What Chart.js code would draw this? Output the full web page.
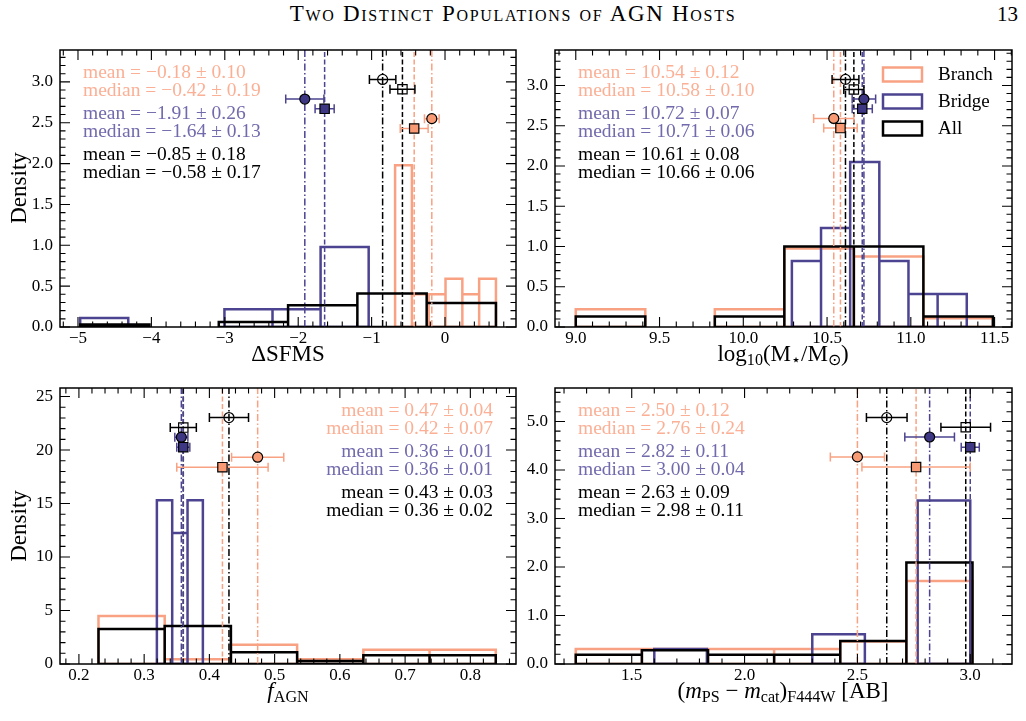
<!DOCTYPE html>
<html>
<head>
<meta charset="utf-8">
<script src="https://cdn.jsdelivr.net/npm/chart.js@4/dist/chart.umd.min.js"></script>
<style>
  body { margin: 0; background: #fff; }
  #page { position: relative; width: 1026px; height: 721px; overflow: hidden; font-family: 'Liberation Serif', 'Times New Roman', serif; color: #000; }
  canvas { position: absolute; }
  .lab { position: absolute; white-space: nowrap; transform: translate(-50%, -50%); font-size: 23px; line-height: 1; }
  .lab sub { font-size: 0.7em; vertical-align: -0.28em; line-height: 0; }
  .lab i { font-style: italic; }
  .rot { transform: translate(-50%, -50%) rotate(-90deg); }
  #title { position: absolute; left: 0; width: 1026px; top: 1px; line-height: 26px; text-align: center; font-variant: small-caps; font-size: 23px; letter-spacing: 1.7px; }
  #pageno { position: absolute; right: 8px; top: 1px; line-height: 26px; font-size: 21px; }
</style>
</head>
<body>
<div id="page">
  <div id="title">Two Distinct Populations of AGN Hosts</div>
  <div id="pageno">13</div>
  <canvas id="cSfms"></canvas>
  <canvas id="cMass"></canvas>
  <canvas id="cFagn"></canvas>
  <canvas id="cDmag"></canvas>
  <div class="lab rot" style="left:18px;top:188px">Density</div>
  <div class="lab rot" style="left:18px;top:526px">Density</div>
  <div class="lab" style="left:288px;top:353px">ΔSFMS</div>
  <div class="lab" style="left:783px;top:353px">log<sub>10</sub>(M<sub>⋆</sub>/M<sub>⊙</sub>)</div>
  <div class="lab" style="left:288px;top:690px"><i>f</i><sub>AGN</sub></div>
  <div class="lab" style="left:783px;top:690px">(<i>m</i><sub>PS</sub> − <i>m</i><sub>cat</sub>)<sub>F444W</sub> [AB]</div>
</div>
<script>
// group order everywhere: Branch, Bridge, All
const groupNames = ['Branch', 'Bridge', 'All'];

// --- ΔSFMS ---
const sfmsBranchEdges = [-0.68, -0.451, -0.222, 0.007, 0.236, 0.465, 0.694];
const sfmsBranchDens = [1.98, 0.40, 0.40, 0.59, 0.40, 0.59];
const sfmsBridgeEdges = [-4.97, -4.315, -3.66, -3.005, -2.35, -1.695, -1.04];
const sfmsBridgeDens = [0.109, 0, 0, 0.218, 0.218, 0.98];
const sfmsAllEdges = [-4.97, -4.026, -3.082, -2.138, -1.194, -0.25, 0.694];
const sfmsAllDens = [0.03, 0, 0.06, 0.265, 0.41, 0.294];
const sfmsMean = [-0.18, -1.91, -0.85];
const sfmsMeanErr = [0.10, 0.26, 0.18];
const sfmsMedian = [-0.42, -1.64, -0.58];
const sfmsMedianErr = [0.19, 0.13, 0.17];
const sfmsMarkerY = [2.55, 2.43, 2.79, 2.67, 3.03, 2.91];
const sfmsXRange = [-5.245, 0.967];
const sfmsYMax = 3.39;

// --- log10 stellar mass ---
const massBranchEdges = [9.0, 9.415, 9.83, 10.245, 10.66, 11.075, 11.49];
const massBranchDens = [0.219, 0, 0.219, 0.975, 0.876, 0.11];
const massBridgeEdges = [10.29, 10.464, 10.638, 10.812, 10.986, 11.16, 11.334];
const massBridgeDens = [0.82, 1.23, 2.05, 0.82, 0.41, 0.41];
const massAllEdges = [9.0, 9.415, 9.83, 10.245, 10.66, 11.075, 11.49];
const massAllDens = [0.13, 0, 0.13, 1.0, 1.0, 0.13];
const massMean = [10.54, 10.72, 10.61];
const massMeanErr = [0.12, 0.07, 0.08];
const massMedian = [10.58, 10.71, 10.66];
const massMedianErr = [0.10, 0.06, 0.06];
const massMarkerY = [2.59, 2.47, 2.83, 2.71, 3.075, 2.95];
const massXRange = [8.876, 11.604];
const massYMax = 3.44;

// --- f_AGN ---
const fagnBranchEdges = [0.23, 0.3315, 0.433, 0.5345, 0.636, 0.7375, 0.839];
const fagnBranchDens = [4.48, 0.45, 1.79, 0.45, 1.34, 1.34];
const fagnBridgeEdges = [0.3195, 0.343, 0.3665, 0.39];
const fagnBridgeDens = [15.3, 12.25, 15.3];
const fagnAllEdges = [0.23, 0.3315, 0.433, 0.5345, 0.636, 0.7375, 0.839];
const fagnAllDens = [3.28, 3.56, 1.09, 0.27, 0.82, 0.82];
const fagnMean = [0.474, 0.357, 0.43];
const fagnMeanErr = [0.04, 0.01, 0.03];
const fagnMedian = [0.42, 0.36, 0.36];
const fagnMedianErr = [0.07, 0.01, 0.02];
const fagnMarkerY = [19.33, 18.4, 21.2, 20.27, 23.04, 22.1];
const fagnXRange = [0.171, 0.870];
const fagnYMax = 25.8;

// --- (m_PS - m_cat) F444W ---
const dmagBranchEdges = [1.252, 1.545, 1.838, 2.131, 2.424, 2.717, 3.01];
const dmagBranchDens = [0.31, 0.31, 0.31, 0.31, 0.465, 1.71];
const dmagBridgeEdges = [1.60, 1.833, 2.067, 2.30, 2.533, 2.767, 3.0];
const dmagBridgeDens = [0.307, 0, 0, 0.613, 0, 3.37];
const dmagAllEdges = [1.252, 1.545, 1.838, 2.131, 2.424, 2.717, 3.01];
const dmagAllDens = [0.19, 0.284, 0.19, 0.19, 0.474, 2.09];
const dmagMean = [2.50, 2.82, 2.63];
const dmagMeanErr = [0.12, 0.11, 0.09];
const dmagMedian = [2.76, 3.00, 2.98];
const dmagMedianErr = [0.24, 0.04, 0.11];
const dmagMarkerY = [4.27, 4.06, 4.68, 4.47, 5.08, 4.88];
const dmagXRange = [1.16, 3.185];
const dmagYMax = 5.69;

// colours: Branch, Bridge, All
const lineColors = ['#F9A283', '#4C4490', '#000000'];
const fillColors = ['#F89B74', '#3E3783', 'rgba(0,0,0,0)'];
const textColors = ['#FBB096', '#716AAC', '#000000'];

const SERIF = "'Liberation Serif', 'Times New Roman', serif";
const DASHDOT = [7, 2.5, 1.5, 2.5];
const DASHED = [5, 2.5];
const PAD_L = 56, PAD_T = 14, PAD_R = 14, PAD_B = 34;

Chart.defaults.font.family = SERIF;
Chart.defaults.font.size = 17;
Chart.defaults.color = '#000';

function fmt(v, d) {
  return v.toFixed(d).replace('-', '\u2212');
}

function histData(edges, dens) {
  const pts = [];
  for (let i = 0; i < dens.length; i++) {
    if (!(dens[i] > 0)) continue;
    const l = edges[i], r = edges[i + 1];
    pts.push({x: l, y: 0}, {x: l, y: dens[i]}, {x: r, y: dens[i]}, {x: r, y: 0}, {x: l, y: 0}, {x: r, y: null});
  }
  return pts;
}

const errorBars = {
  id: 'errorBars',
  beforeDatasetDraw(chart, args) {
    const ds = chart.data.datasets[args.index];
    if (!ds.xErr) return;
    const {ctx} = chart;
    const xs = chart.scales.x, ys = chart.scales.y;
    ctx.save();
    ctx.strokeStyle = ds.errColor;
    ctx.lineWidth = 1.5;
    ds.data.forEach((p, i) => {
      const py = ys.getPixelForValue(p.y);
      const x0 = xs.getPixelForValue(p.x - ds.xErr[i]);
      const x1 = xs.getPixelForValue(p.x + ds.xErr[i]);
      ctx.beginPath();
      ctx.moveTo(x0, py); ctx.lineTo(x1, py);
      ctx.moveTo(x0, py - 4.5); ctx.lineTo(x0, py + 4.5);
      ctx.moveTo(x1, py - 4.5); ctx.lineTo(x1, py + 4.5);
      ctx.stroke();
    });
    ctx.restore();
  }
};

const decor = {
  id: 'decor',
  afterDatasetsDraw(chart, args, o) {
    const {ctx, chartArea: a} = chart;
    ctx.save();
    ctx.strokeStyle = '#000';
    ctx.lineWidth = 1.1;
    const ticks = (scale, minor, major, horiz) => {
      const n0 = Math.ceil(scale.min / minor - 1e-9), n1 = Math.floor(scale.max / minor + 1e-9);
      for (let n = n0; n <= n1; n++) {
        const v = n * minor;
        const isMajor = Math.abs(v / major - Math.round(v / major)) < 1e-6;
        const len = isMajor ? 10 : 5.5;
        const p = scale.getPixelForValue(v);
        ctx.beginPath();
        if (horiz) {
          ctx.moveTo(p, a.bottom); ctx.lineTo(p, a.bottom - len);
          ctx.moveTo(p, a.top); ctx.lineTo(p, a.top + len);
        } else {
          ctx.moveTo(a.left, p); ctx.lineTo(a.left + len, p);
          ctx.moveTo(a.right, p); ctx.lineTo(a.right - len, p);
        }
        ctx.stroke();
      }
    };
    ticks(chart.scales.x, o.xMinor, o.xMajor, true);
    ticks(chart.scales.y, o.yMinor, o.yMajor, false);
    ctx.lineWidth = 1.5;
    ctx.strokeRect(a.left, a.top, a.right - a.left, a.bottom - a.top);
    ctx.restore();
  },
  afterDraw(chart, args, o) {
    const {ctx, chartArea: a} = chart;
    const baselines = [27.5, 45.5, 68.5, 86.5, 110, 128];
    ctx.save();
    ctx.font = '19.5px ' + SERIF;
    ctx.textBaseline = 'alphabetic';
    ctx.textAlign = o.align;
    const x = o.align === 'left' ? a.left + 23 : a.right - 23;
    o.lines.forEach((ln, i) => {
      ctx.fillStyle = ln.color;
      ctx.fillText(ln.text, x, a.top + baselines[i]);
    });
    if (o.legend) {
      groupNames.forEach((name, i) => {
        const cy = a.top + 24.5 + i * 27;
        ctx.strokeStyle = lineColors[i];
        ctx.lineWidth = 2.5;
        ctx.strokeRect(a.right - 129, cy - 7, 39, 14);
        ctx.fillStyle = '#000';
        ctx.font = '19px ' + SERIF;
        ctx.textAlign = 'left';
        ctx.textBaseline = 'middle';
        ctx.fillText(name, a.right - 74, cy + 1);
      });
    }
    ctx.restore();
  }
};

function statLines(mean, meanErr, median, medianErr) {
  const out = [];
  for (let i = 0; i < 3; i++) {
    out.push({text: 'mean = ' + fmt(mean[i], 2) + ' \u00b1 ' + meanErr[i].toFixed(2), color: textColors[i]});
    out.push({text: 'median = ' + fmt(median[i], 2) + ' \u00b1 ' + medianErr[i].toFixed(2), color: textColors[i]});
  }
  return out;
}

function makePanel(id, box, p) {
  const canvas = document.getElementById(id);
  const w = box.R - box.L + PAD_L + PAD_R, h = box.B - box.T + PAD_T + PAD_B;
  canvas.width = w; canvas.height = h;
  canvas.style.width = w + 'px'; canvas.style.height = h + 'px';
  canvas.style.left = (box.L - PAD_L) + 'px';
  canvas.style.top = (box.T - PAD_T) + 'px';

  const datasets = [];
  const hists = [[p.brE, p.brD], [p.bgE, p.bgD], [p.alE, p.alD]];
  hists.forEach(([e, d], i) => datasets.push({
    data: histData(e, d), showLine: true, spanGaps: false, borderColor: lineColors[i],
    borderWidth: 2.5, borderJoinStyle: 'miter', pointRadius: 0, pointHoverRadius: 0, order: 20 - i
  }));
  for (let i = 0; i < 3; i++) {
    [[p.mean[i], DASHDOT], [p.median[i], DASHED]].forEach(([v, dash]) => datasets.push({
      data: [{x: v, y: 0}, {x: v, y: p.yMax}], showLine: true, borderColor: lineColors[i],
      borderWidth: 1.5, borderDash: dash, pointRadius: 0, pointHoverRadius: 0, order: 10
    }));
  }
  for (let i = 0; i < 3; i++) {
    datasets.push({
      data: [{x: p.mean[i], y: p.markY[2 * i]}, {x: p.median[i], y: p.markY[2 * i + 1]}],
      xErr: [p.meanErr[i], p.medianErr[i]], errColor: lineColors[i],
      showLine: false, pointStyle: ['circle', 'rect'], pointRadius: [5, 6.6], pointHoverRadius: [5, 6.6],
      pointBackgroundColor: fillColors[i], pointBorderColor: '#000', pointBorderWidth: 1.2, order: 3 - i
    });
  }

  const tickFont = {family: SERIF, size: 17};
  new Chart(canvas, {
    type: 'scatter',
    data: {datasets},
    plugins: [errorBars, decor],
    options: {
      responsive: false,
      animation: false,
      events: [],
      layout: {padding: {left: 0, top: PAD_T, right: PAD_R, bottom: 0}},
      plugins: {
        legend: {display: false},
        tooltip: {enabled: false},
        decor: {
          xMinor: p.xMinor, xMajor: p.xStep, yMinor: p.yMinor, yMajor: p.yStep,
          align: p.align, legend: p.legend,
          lines: statLines(p.mean, p.meanErr, p.median, p.medianErr)
        }
      },
      scales: {
        x: {
          type: 'linear', position: 'bottom', min: p.xRange[0], max: p.xRange[1],
          afterFit: s => { s.height = PAD_B; s.paddingLeft = 0; s.paddingRight = 0; },
          grid: {display: false, drawTicks: false}, border: {display: false},
          ticks: {stepSize: p.xStep, includeBounds: false, autoSkip: false, maxRotation: 0,
            padding: 1, color: '#000', font: tickFont, callback: v => fmt(v, p.xDec)}
        },
        y: {
          type: 'linear', position: 'left', min: 0, max: p.yMax,
          afterFit: s => { s.width = PAD_L; s.paddingTop = 0; s.paddingBottom = 0; },
          grid: {display: false, drawTicks: false}, border: {display: false},
          ticks: {stepSize: p.yStep, includeBounds: false, autoSkip: false,
            padding: 7, color: '#000', font: tickFont, callback: v => fmt(v, p.yDec)}
        }
      }
    }
  });
}

makePanel('cSfms', {L: 60, T: 50, R: 516, B: 327}, {
  brE: sfmsBranchEdges, brD: sfmsBranchDens, bgE: sfmsBridgeEdges, bgD: sfmsBridgeDens,
  alE: sfmsAllEdges, alD: sfmsAllDens, mean: sfmsMean, meanErr: sfmsMeanErr,
  median: sfmsMedian, medianErr: sfmsMedianErr, markY: sfmsMarkerY,
  xRange: sfmsXRange, yMax: sfmsYMax, xStep: 1, xMinor: 0.2, xDec: 0, yStep: 0.5, yMinor: 0.1, yDec: 1,
  align: 'left', legend: false
});
makePanel('cMass', {L: 555, T: 50, R: 1012, B: 327}, {
  brE: massBranchEdges, brD: massBranchDens, bgE: massBridgeEdges, bgD: massBridgeDens,
  alE: massAllEdges, alD: massAllDens, mean: massMean, meanErr: massMeanErr,
  median: massMedian, medianErr: massMedianErr, markY: massMarkerY,
  xRange: massXRange, yMax: massYMax, xStep: 0.5, xMinor: 0.1, xDec: 1, yStep: 0.5, yMinor: 0.1, yDec: 1,
  align: 'left', legend: true
});
makePanel('cFagn', {L: 60, T: 388, R: 516, B: 664}, {
  brE: fagnBranchEdges, brD: fagnBranchDens, bgE: fagnBridgeEdges, bgD: fagnBridgeDens,
  alE: fagnAllEdges, alD: fagnAllDens, mean: fagnMean, meanErr: fagnMeanErr,
  median: fagnMedian, medianErr: fagnMedianErr, markY: fagnMarkerY,
  xRange: fagnXRange, yMax: fagnYMax, xStep: 0.1, xMinor: 0.02, xDec: 1, yStep: 5, yMinor: 1, yDec: 0,
  align: 'right', legend: false
});
makePanel('cDmag', {L: 555, T: 388, R: 1012, B: 664}, {
  brE: dmagBranchEdges, brD: dmagBranchDens, bgE: dmagBridgeEdges, bgD: dmagBridgeDens,
  alE: dmagAllEdges, alD: dmagAllDens, mean: dmagMean, meanErr: dmagMeanErr,
  median: dmagMedian, medianErr: dmagMedianErr, markY: dmagMarkerY,
  xRange: dmagXRange, yMax: dmagYMax, xStep: 0.5, xMinor: 0.1, xDec: 1, yStep: 1, yMinor: 0.2, yDec: 1,
  align: 'left', legend: false
});
</script>
</body>
</html>
